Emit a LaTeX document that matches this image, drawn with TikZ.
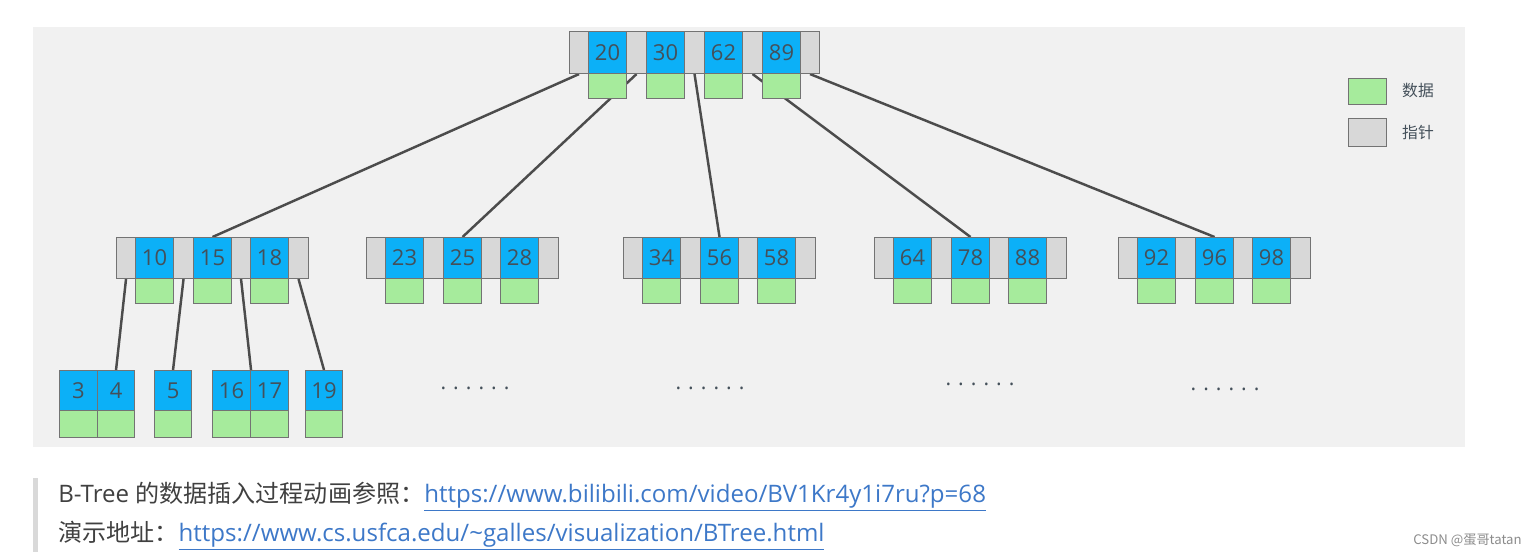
\documentclass[tikz,border=0pt]{standalone}
\usepackage{fontspec}
\setmainfont{Open Sans}
\newfontfamily\cjk{Noto Sans CJK SC}
\pgfdeclarelayer{bg}\pgfdeclarelayer{edges}
\pgfsetlayers{bg,edges,main}
\definecolor{keyblue}{HTML}{0CB0F7}
\definecolor{datagreen}{HTML}{A6EB9C}
\definecolor{ptrgray}{HTML}{D8D8D8}
\definecolor{panel}{HTML}{F1F1F1}
\definecolor{txt}{HTML}{44505A}
\definecolor{linkblue}{HTML}{3D78C8}
\newcommand\cellbox[7]{\node[cell,fill=#6,minimum width={(#4-#2)*0.02cm},minimum height={(#5-#3)*0.02cm}] (#1) at (#2,#3) {#7};}
\tikzset{
  cell/.style={draw=black!55,line width=0.6pt,inner sep=0pt,anchor=north west,text=txt,font=\fontsize{12.5}{14}\selectfont},
  edge/.style={draw=black!70,line width=1.4pt},
  dots/.style={text=txt,font=\fontsize{12}{14}\selectfont}
}
\begin{document}
\begin{tikzpicture}[x=0.02cm,y=-0.02cm]
\useasboundingbox (0,0) rectangle (1533,558);
\begin{pgfonlayer}{bg}
\fill[panel] (33,27) rectangle (1465,447);
\fill[black!15] (33,478) rectangle (38,552);
\end{pgfonlayer}
% top node
\cellbox{tbar}{569}{31}{819}{73}{ptrgray}{}
\cellbox{tp0}{569}{31}{588}{73}{ptrgray}{}
\cellbox{tp1}{626}{31}{646}{73}{ptrgray}{}
\cellbox{tp2}{684}{31}{704}{73}{ptrgray}{}
\cellbox{tp3}{742}{31}{762}{73}{ptrgray}{}
\cellbox{tp4}{800}{31}{819}{73}{ptrgray}{}
\cellbox{t20}{588}{31}{626}{73}{keyblue}{20}
\cellbox{t30}{646}{31}{684}{73}{keyblue}{30}
\cellbox{t62}{704}{31}{742}{73}{keyblue}{62}
\cellbox{t89}{762}{31}{800}{73}{keyblue}{89}
\cellbox{td1}{588}{73}{626}{98}{datagreen}{}
\cellbox{td2}{646}{73}{684}{98}{datagreen}{}
\cellbox{td3}{704}{73}{742}{98}{datagreen}{}
\cellbox{td4}{762}{73}{800}{98}{datagreen}{}
% middle nodes
\newcommand\midnode[5]{%
  \pgfmathsetmacro\xa{#2}\pgfmathsetmacro\xb{#2+19}\pgfmathsetmacro\xc{#2+57}%
  \pgfmathsetmacro\xd{#2+77}\pgfmathsetmacro\xe{#2+115}\pgfmathsetmacro\xf{#2+134}%
  \pgfmathsetmacro\xg{#2+172}\pgfmathsetmacro\xh{#2+192}%
  \cellbox{#1bar}{\xa}{237}{\xh}{278}{ptrgray}{}
  \cellbox{#1p0}{\xa}{237}{\xb}{278}{ptrgray}{}
  \cellbox{#1p1}{\xc}{237}{\xd}{278}{ptrgray}{}
  \cellbox{#1p2}{\xe}{237}{\xf}{278}{ptrgray}{}
  \cellbox{#1p3}{\xg}{237}{\xh}{278}{ptrgray}{}
  \cellbox{#1k1}{\xb}{237}{\xc}{278}{keyblue}{#3}
  \cellbox{#1k2}{\xd}{237}{\xe}{278}{keyblue}{#4}
  \cellbox{#1k3}{\xf}{237}{\xg}{278}{keyblue}{#5}
  \cellbox{#1d1}{\xb}{278}{\xc}{303}{datagreen}{}
  \cellbox{#1d2}{\xd}{278}{\xe}{303}{datagreen}{}
  \cellbox{#1d3}{\xf}{278}{\xg}{303}{datagreen}{}
}
\midnode{a}{116}{10}{15}{18}
\midnode{b}{366}{23}{25}{28}
\midnode{c}{623}{34}{56}{58}
\midnode{d}{874}{64}{78}{88}
\midnode{e}{1118}{92}{96}{98}
% leaves
\cellbox{l3}{59}{370}{97}{410}{keyblue}{3}
\cellbox{l4}{97}{370}{134}{410}{keyblue}{4}
\cellbox{l5}{154}{370}{191}{410}{keyblue}{5}
\cellbox{l16}{212}{370}{250}{410}{keyblue}{16}
\cellbox{l17}{250}{370}{288}{410}{keyblue}{17}
\cellbox{l19}{305}{370}{342}{410}{keyblue}{19}
\cellbox{g3}{59}{410}{97}{437}{datagreen}{}
\cellbox{g4}{97}{410}{134}{437}{datagreen}{}
\cellbox{g5}{154}{410}{191}{437}{datagreen}{}
\cellbox{g16}{212}{410}{250}{437}{datagreen}{}
\cellbox{g17}{250}{410}{288}{437}{datagreen}{}
\cellbox{g19}{305}{410}{342}{437}{datagreen}{}
% dots
\node[dots] (dots1) at (475,388) {.\hspace{4pt}.\hspace{4pt}.\hspace{4pt}.\hspace{4pt}.\hspace{4pt}.};
\node[dots] (dots2) at (710,388) {.\hspace{4pt}.\hspace{4pt}.\hspace{4pt}.\hspace{4pt}.\hspace{4pt}.};
\node[dots] (dots3) at (980,384) {.\hspace{4pt}.\hspace{4pt}.\hspace{4pt}.\hspace{4pt}.\hspace{4pt}.};
\node[dots] (dots4) at (1225,389) {.\hspace{4pt}.\hspace{4pt}.\hspace{4pt}.\hspace{4pt}.\hspace{4pt}.};
% edges
\begin{pgfonlayer}{edges}
\draw[edge] (tp0.south) -- (ak2.north);
\draw[edge] (tp1.south) -- (bk2.north);
\draw[edge] (tp2.south) -- (ck2.north);
\draw[edge] (tp3.south) -- (dk2.north);
\draw[edge] (tp4.south) -- (ek2.north);
\draw[edge] (ap0.south) -- (l4.north);
\draw[edge] (ap1.south) -- (l5.north);
\draw[edge] (ap2.south) -- (l16.north east);
\draw[edge] (ap3.south) -- (l19.north);
\end{pgfonlayer}
% legend
\cellbox{lg1}{1348}{78}{1386}{104}{datagreen}{}
\cellbox{lg2}{1348}{118}{1386}{146}{ptrgray}{}
\node[anchor=west,text=txt,font=\cjk\fontsize{9}{10}\selectfont] (lt1) at (1396,91) {数据};
\node[anchor=west,text=txt,font=\cjk\fontsize{9}{10}\selectfont] (lt2) at (1396,132) {指针};
% bottom text
\node[anchor=west,inner sep=0,text=black!75,font=\fontsize{13.7}{16}\selectfont] (ref1) at (58,497)
  {B-Tree {\cjk 的数据插入过程动画参照：}\textcolor{linkblue}{\underline{https://www.bilibili.com/video/BV1Kr4y1i7ru?p=68}}};
\node[anchor=west,inner sep=0,text=black!75,font=\fontsize{13.7}{16}\selectfont] (ref2) at (58,536)
  {{\cjk 演示地址：}\textcolor{linkblue}{\underline{https://www.cs.usfca.edu/\~{}galles/visualization/BTree.html}}};
\node[anchor=east,inner sep=0,text=black!45,font=\cjk\fontsize{7.5}{9}\selectfont] (wm) at (1522,540) {CSDN @蛋哥tatan};
\end{tikzpicture}
\end{document}
